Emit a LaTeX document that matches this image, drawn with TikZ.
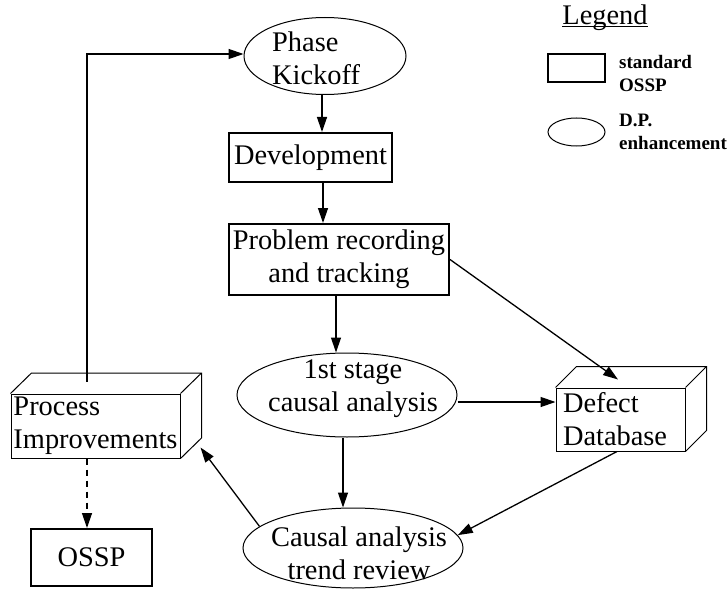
\documentclass[tikz,border=0pt]{standalone}
\usepackage{fontspec}
\setmainfont{Liberation Serif}
\usetikzlibrary{arrows.meta,calc,shapes.geometric}
\begin{document}
\begin{tikzpicture}[x=1pt,y=-1pt,
  txt/.style={font=\fontsize{28.4}{33}\selectfont, inner sep=0pt, align=center},
  legtxt/.style={font=\fontsize{19}{23}\selectfont\bfseries, inner sep=0pt, align=left, anchor=west},
  stdbox/.style={draw, line width=2pt, rectangle, inner sep=0pt,
    font=\fontsize{28.4}{33}\selectfont, align=center},
  dpoval/.style={draw, line width=1pt, ellipse, inner sep=0pt},
  cube/.style={draw, line width=1pt, rectangle, inner sep=0pt,
    font=\fontsize{28.4}{33}\selectfont, align=left},
  face/.style={line width=1pt, line join=miter},
  flow/.style={line width=1.3pt, -{Triangle[length=15pt,width=10pt]}},
  flowdash/.style={flow, dash pattern=on 6pt off 5pt}]
\useasboundingbox (0,0) rectangle (728,591);

% ---- main flow nodes ----
\node[dpoval, minimum width=162, minimum height=77] (pk) at (325,56) {};
\node[txt, anchor=west, align=left] (pkt) at (272,58) {Phase\\Kickoff};

\node[stdbox, minimum width=163, minimum height=49] (dev) at (310.5,157.5) {Development};
\node[stdbox, minimum width=220, minimum height=71] (pr) at (339,259.5)
  {Problem recording\\and tracking};

\node[dpoval, minimum width=220, minimum height=84] (fs) at (347,395) {};
\node[txt] (fst) at (353,389) {1st stage\\causal analysis};

\node[dpoval, minimum width=220, minimum height=80] (ca) at (353,548) {};
\node[txt] (cat) at (359,553) {Causal analysis\\trend review};

\node[stdbox, minimum width=121, minimum height=57] (ossp) at (91.5,557.5) {OSSP};

% ---- 3D boxes ----
\node[cube, minimum width=129, minimum height=63, text width=115] (db) at (620.5,419.5) {Defect\\Database};
\draw[face] (db.north west) -- ++(21,-21) -- ($(db.north east)+(21,-21)$)
  -- ($(db.south east)+(21,-21)$) -- (db.south east)
  (db.north east) -- ++(21,-21);

\node[cube, minimum width=169, minimum height=64] (pi) at (95.5,426) {Process\\Improvements};
\draw[face] (pi.north west) -- ++(21,-20.5) -- ($(pi.north east)+(21,-20.5)$)
  -- ($(pi.south east)+(21,-20.5)$) -- (pi.south east)
  (pi.north east) -- ++(21,-20.5);

% ---- connector end points on the 3D boxes ----
\coordinate (dbtop) at ($(db.north)+(-2.5,-8)$);
\coordinate (pitop) at ($(pi.north)+(-8.5,-12)$);
\coordinate (piside) at ($(pi.south east)+(20,-11)$);

% ---- connectors ----
\draw[flow] ([xshift=-3pt]pk.south) -- ([xshift=-3pt]pk.south |- dev.north);
\draw[flow] ([xshift=12.5pt]dev.south) -- ([xshift=12.5pt]dev.south |- pr.north);
\draw[flow] ([xshift=-3pt]pr.south) -- ([xshift=-3pt]pr.south |- fs.north);
\draw[flow] (pr.east) -- (dbtop);
\draw[flow] ([yshift=-7pt]fs.east) -- ([yshift=-7pt]fs.east -| db.west);
\draw[flow] ([xshift=-4pt]fs.south) -- ([xshift=-4pt]fs.south |- ca.north);
\draw[flow] ([xshift=-3.5pt]db.south) -- (ca.7);
\draw[flow] (ca.167) -- (piside);
\draw[flowdash] ([xshift=-8.5pt]pi.south) -- ([xshift=-8.5pt]pi.south |- ossp.north);
\draw[flow] (pitop) |- ([yshift=2pt]pk.west);

% ---- legend ----
\node[font=\fontsize{28.4}{33}\selectfont, inner sep=0pt, anchor=base] (lg) at (605,25) {Legend};
\draw[line width=1pt] ([yshift=-2pt]lg.base west) -- ([yshift=-2pt]lg.base east);
\node[draw, line width=2pt, rectangle, inner sep=0pt, minimum width=57, minimum height=28] (lrect) at (576.5,68) {};
\node[legtxt] (lrt) at (619,74) {standard\\OSSP};
\node[draw, line width=1pt, ellipse, inner sep=0pt, minimum width=57, minimum height=28] (loval) at (576.5,132) {};
\node[legtxt] (lot) at (619,131.5) {D.P.\\enhancement};
\end{tikzpicture}
\end{document}
